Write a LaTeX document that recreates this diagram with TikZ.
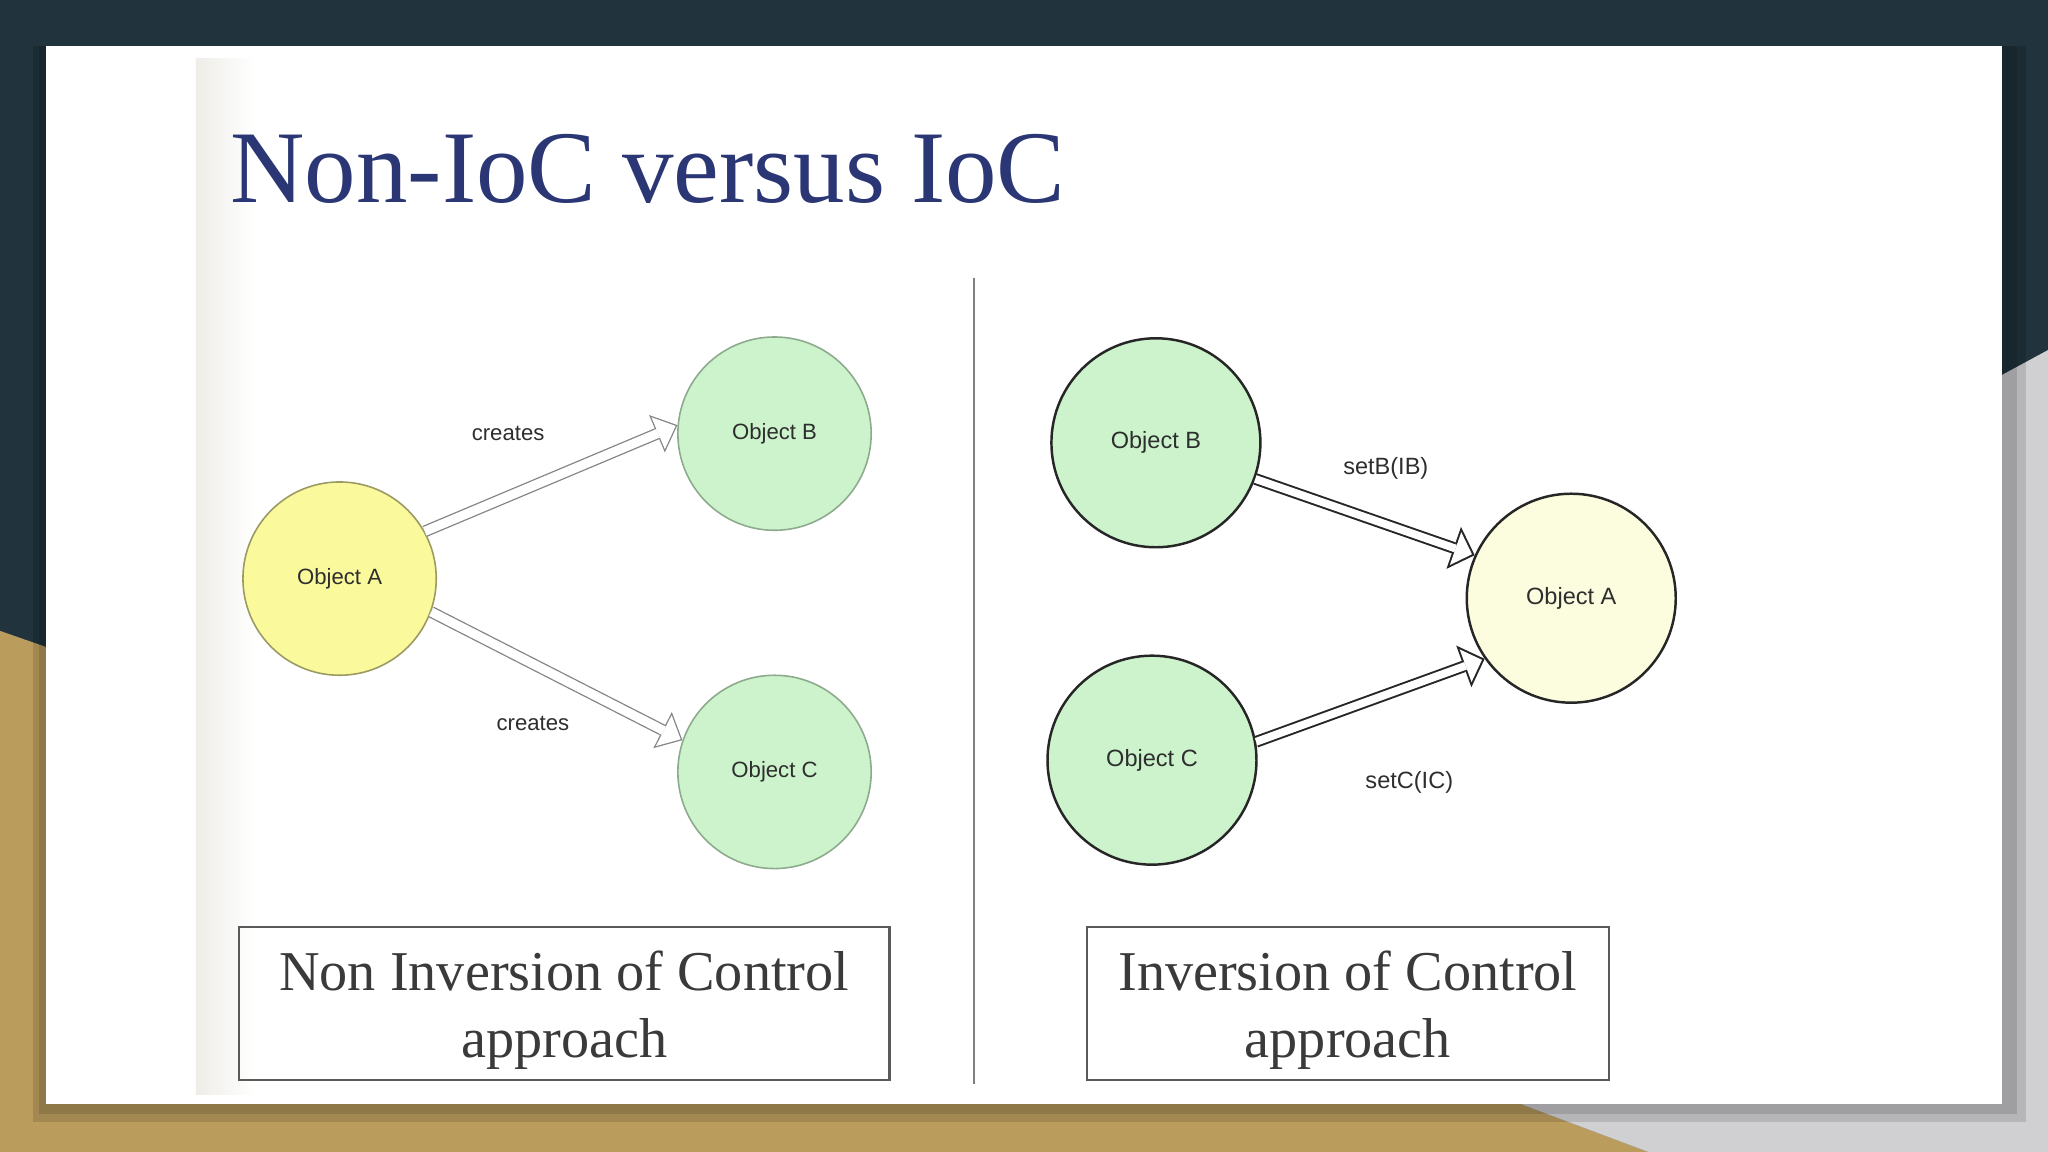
\documentclass[tikz,border=0pt]{standalone}
\usepackage{fontspec}
\setmainfont{Liberation Serif}
\newfontfamily\arialfont{Liberation Sans}
\usepackage{xcolor}
\usepackage{tikz}
\usetikzlibrary{arrows.meta,positioning}
\newlength\pxl
\setlength\pxl{0.01306cm}
\definecolor{slidebg}{HTML}{21333D}
\definecolor{gold}{HTML}{BA9C5D}
\definecolor{sidegrey}{HTML}{D0D0D2}
\definecolor{imgedge}{HTML}{EEEDE8}
\definecolor{titleblue}{HTML}{2B3675}
\definecolor{objyellow}{HTML}{FAFA9C}
\definecolor{objgreen}{HTML}{CCF3CC}
\definecolor{objcream}{HTML}{FCFCDF}
\definecolor{rimyellow}{HTML}{9A9A62}
\definecolor{rimgreen}{HTML}{8EAA8E}
\definecolor{arrowgrey}{HTML}{858585}
\definecolor{inkdark}{HTML}{262626}
\definecolor{labelink}{HTML}{2E2E2E}
\definecolor{captext}{HTML}{3A3A3A}
\definecolor{boxgrey}{HTML}{5A5A5A}
\tikzset{objl/.style={circle,draw=rimyellow,line width=0.45pt,minimum size=148\pxl,inner sep=0pt,text=labelink,font=\arialfont\fontsize{6.3}{7}\selectfont}}
\tikzset{objr/.style={circle,draw=inkdark,line width=0.7pt,minimum size=160\pxl,inner sep=0pt,text=labelink,font=\arialfont\fontsize{6.7}{8}\selectfont}}
\tikzset{lbl/.style={text=labelink,font=\arialfont\fontsize{6.3}{7}\selectfont}}
\tikzset{lblr/.style={text=labelink,font=\arialfont\fontsize{6.7}{8}\selectfont}}
\tikzset{capbox/.style={draw=boxgrey,line width=0.6pt,minimum height=117\pxl,inner sep=0pt,align=center,text=captext,font=\fontsize{16}{19}\selectfont}}
% hollow arrows: a grey arrow with a thinner white one on top
\tikzset{hollowl/.style={draw=arrowgrey,line width=3.34pt,-{Triangle[length=6.32pt,width=11.52pt,line width=0pt]}}}
\tikzset{hollowlin/.style={draw=white,line width=2.6pt,shorten >=0.56pt,-{Triangle[length=5.39pt,width=9.85pt,line width=0pt]}}}
\tikzset{hollowr/.style={draw=inkdark,line width=3.34pt,-{Triangle[length=6.32pt,width=12.63pt,line width=0pt]}}}
\tikzset{hollowrin/.style={draw=white,line width=2.23pt,shorten >=0.82pt,-{Triangle[length=4.94pt,width=9.88pt,line width=0pt]}}}

\begin{document}
\begin{tikzpicture}[x=0.01306cm,y=-0.01306cm]
    \useasboundingbox (0,0) rectangle (1568,882);
    % slide frame
    \fill[slidebg] (0,0) rectangle (1568,882);
    \fill[gold] (0,483) -- (40,497) -- (40,840) -- (1150,840) -- (1262,882) -- (0,882) -- cycle;
    \fill[sidegrey] (1568,268) -- (1520,294) -- (1520,840) -- (1150,840) -- (1262,882) -- (1568,882) -- cycle;
    \fill[black,opacity=0.12] (25,35) rectangle (1551,859);
    \fill[black,opacity=0.12] (30,35) rectangle (1544,853);
    \fill[white] (35,35) rectangle (1533,845);
    \shade[left color=imgedge,right color=white] (150,45) rectangle (195,838);

    \node[font=\fontsize{29.3}{35}\selectfont,text=titleblue,anchor=base west] (title) at (167,155) {Non-IoC versus IoC};
    \draw[draw=gray,line width=0.55pt] (746,213) -- (746,830);

    % without IoC
    \node[objl,fill=objyellow] (lA) at (260,443) {Object A};
    \node[objl,draw=rimgreen,fill=objgreen] (lB) at (593,332) {Object B};
    \node[objl,draw=rimgreen,fill=objgreen] (lC) at (593,591) {Object C};
    \draw [hollowl] (lA.29) -- (lB.175);
    \draw [hollowlin] (lA.29) -- (lB.175);
    \draw [hollowl] (lA.-20) -- (lC.161);
    \draw [hollowlin] (lA.-20) -- (lC.161);
    \node[lbl] (cr1) at (389,332) {creates};
    \node[lbl] (cr2) at (408,554) {creates};

    % with IoC
    \node[objr,fill=objgreen] (rB) at (885,339) {Object B};
    \node[objr,fill=objgreen] (rC) at (882,582) {Object C};
    \node[objr,fill=objcream] (rA) at (1203,458) {Object A};
    \draw [hollowr] (rB.-20) -- (rA.156);
    \draw [hollowrin] (rB.-20) -- (rA.156);
    \draw [hollowr] (rC.10) -- (rA.215);
    \draw [hollowrin] (rC.10) -- (rA.215);
    \node[lblr] (setb) at (1061,359) {setB(IB)};
    \node[lblr] (setc) at (1079,599) {setC(IC)};

    \node[capbox,minimum width=498\pxl] (noioc) at (432,768.5) {\rule{0pt}{14.8pt}Non Inversion of Control\\approach};
    \node[capbox,minimum width=400\pxl] (ioc) at (1032,768.5) {\rule{0pt}{14.8pt}Inversion of Control\\approach};
\end{tikzpicture}
\end{document}
